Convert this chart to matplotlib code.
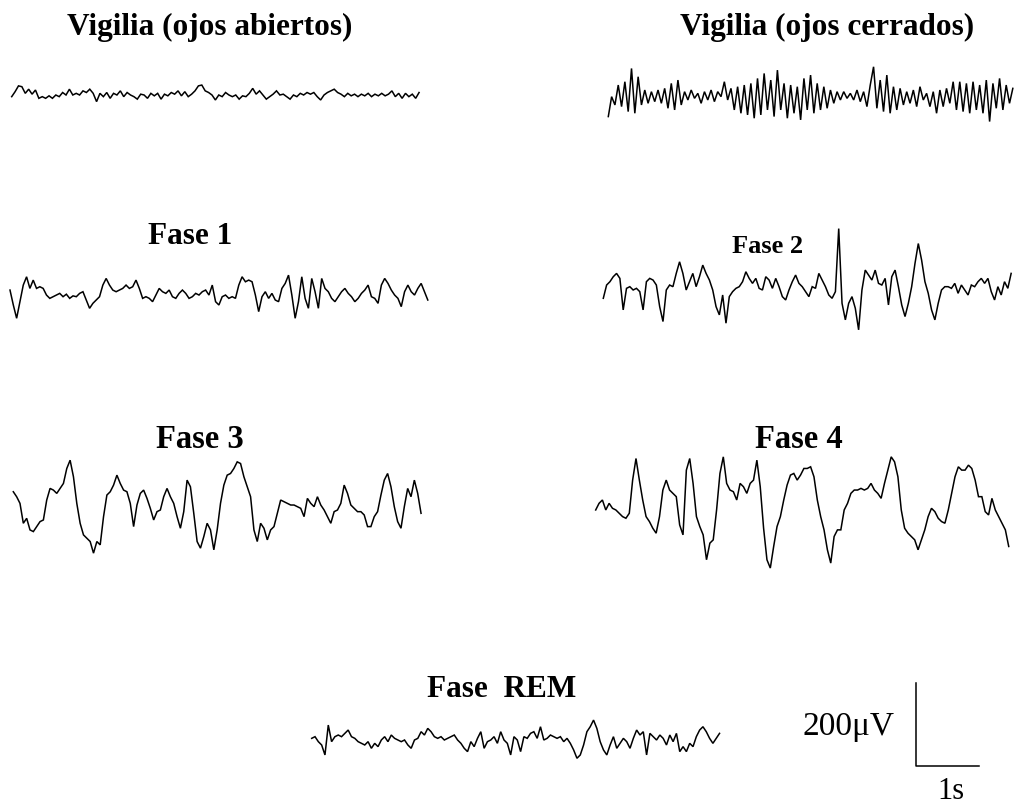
import numpy as np
import matplotlib
matplotlib.use("Agg")
import matplotlib.pyplot as plt

# ---------------- data (amplitudes in microvolts, sampled at FS Hz) ----------------
FS = 19.0

vigilia_abiertos = [
    -4, 8, 22, 20, 4, 14, 2, 12, -8, -4,
    -8, -2, -8, 0, -4, 6, 0, 14, 0, 4,
    0, 10, 6, 14, 4, -16, 4, -4, 6, -8,
    4, 0, 10, -4, 6, 0, -4, -10, 2, 0,
    -8, 4, -2, 4, -10, 2, -2, 6, 2, 10,
    -2, 8, -4, 2, 10, 22, 24, 10, 6, 0,
    -12, 0, -4, 6, 0, -4, 0, -10, -2, -4,
    4, 16, 2, 10, 0, -10, -4, 2, 10, 0,
    2, -4, -10, 0, -4, 4, 0, 6, 2, 6,
    -4, -12, 0, 6, 10, 14, 6, 2, -4, 4,
    -2, 2, -4, 2, -2, 4, -4, 2, -2, 4,
    -2, 2, 10, -4, 4, -8, 4, -4, 2, -8,
    6,
]

vigilia_cerrados = [
    -52, -4, -24, 24, -28, 32, -40, 64, -44, 44,
    -24, 12, -20, 8, -16, 12, -20, 16, -32, 28,
    -36, 36, -24, 8, -12, 12, -8, 4, -20, 8,
    -12, 12, -16, 8, -4, 32, -12, 16, -36, 20,
    -44, 24, -48, 28, -56, 40, -48, 52, -36, 36,
    -52, 60, -36, 28, -56, 24, -44, 20, -60, 40,
    -36, 48, -44, 28, -36, 20, -32, 12, -20, 8,
    -12, 8, -8, 4, -12, 12, -16, 8, -28, 24,
    68, -32, 36, -40, 48, -44, 20, -36, 16, -24,
    8, -20, 12, -28, 20, -12, 4, -28, 8, -44,
    12, -28, 16, -20, 32, -36, 32, -40, 28, -44,
    32, -36, 24, -44, 36, -64, 28, -32, 40, -36,
    24, -20, 16,
]

fase1 = [
    16, -20, -52, -12, 28, 48, 20, 40, 20, 24,
    20, 4, -4, 0, 4, 8, 0, 6, -4, 2,
    0, 8, 12, -8, -28, -16, -8, 0, 28, 44,
    28, 16, 12, 16, 20, 28, 20, 24, 40, 20,
    -4, 0, -4, -12, 4, 20, 12, 8, 16, 0,
    -4, 8, 16, 8, -4, 0, 8, 4, 12, 16,
    4, 28, -12, -20, 0, 4, -4, 0, -4, 28,
    48, 36, 40, 36, 4, -36, 0, 12, -4, 8,
    -8, -12, 20, 32, 52, 4, -52, -12, 48, -4,
    -28, 44, 12, -28, 44, 20, 12, -4, -12, 0,
    12, 20, 8, 0, -12, -4, 8, 16, 28, 0,
    -4, -16, 28, 44, 32, 16, 4, -4, -24, 12,
    28, 12, 4, 20, 32, 12, -8,
]

fase2 = [
    -20, 12, 20, 32, 40, 28, -48, 4, 8, 0,
    4, -4, -48, 20, 28, 24, 12, -40, -76, 0,
    12, 8, 40, 68, 40, 0, 20, 40, 8, 32,
    60, 40, 24, 0, -40, -60, -12, -80, -16, -4,
    4, 8, 20, 44, 28, 16, 28, 4, 0, 32,
    24, 4, 28, 8, -16, -24, 0, 20, 36, 16,
    8, -4, -16, 8, 4, 40, 24, 8, -12, -20,
    -4, 148, -32, -72, -32, -16, -44, -96, 0, 48,
    36, 24, 48, 16, 12, 28, -36, 32, 48, 8,
    -36, -64, -32, 8, 64, 112, 72, 20, -8, -48,
    -72, -32, 0, 8, 8, 4, 16, -8, 12, 0,
    -12, 12, 8, 20, 28, 16, 28, -4, -24, 8,
    -12, 20, 4, 40,
]

fase3 = [
    44, 32, 16, -32, -20, -48, -52, -40, -28, -24,
    24, 52, 48, 40, 52, 64, 100, 120, 80, 16,
    -32, -60, -68, -76, -104, -76, -84, -16, 36, 44,
    60, 84, 64, 48, 44, 16, -40, 12, 40, 48,
    28, 4, -24, -4, 0, 32, 52, 32, 16, -16,
    -44, -4, 72, 56, -8, -76, -92, -64, -32, -48,
    -96, -48, 16, 60, 84, 88, 100, 116, 112, 80,
    56, 32, -48, -76, -32, -44, -72, -48, -40, -8,
    24, 20, 16, 12, 12, 8, 4, -16, 28, 16,
    8, 32, 12, 0, -16, -32, -4, 0, 16, 60,
    40, 12, 4, -4, -4, -12, -40, -40, -16, -4,
    36, 72, 88, 56, 8, -28, -44, 8, 52, 32,
    72, 40, -8,
]

fase4 = [
    -4, 12, 20, -4, 12, 0, -4, -12, -20, -24,
    -12, 68, 120, 68, 20, -20, -32, -48, -60, -20,
    44, 68, 44, 36, 28, -40, -64, 92, 120, 60,
    -20, -44, -64, -124, -84, -76, -4, 84, 124, 60,
    44, 40, 20, 60, 52, 36, 60, 68, 116, 52,
    -48, -124, -144, -92, -44, -20, 20, 56, 80, 84,
    68, 80, 96, 96, 100, 76, 20, -20, -52, -100,
    -132, -68, -52, -52, -4, 12, 36, 44, 44, 48,
    44, 48, 60, 44, 36, 24, 60, 92, 124, 112,
    76, -4, -48, -60, -68, -76, -100, -76, -52, -20,
    0, -8, -24, -32, -36, -4, 36, 76, 100, 92,
    92, 104, 96, 68, 28, 28, -8, -16, 24, -4,
    -20, -36, -52, -92,
]

fase_rem = [
    4, 8, -4, -12, -36, 36, -4, 8, 12, 8,
    16, 24, 8, 4, -4, -8, -12, -4, -20, -8,
    -16, 0, 8, -4, 12, 4, 0, -4, 0, -12,
    -20, 0, 4, 20, 12, 28, 20, 8, 4, 8,
    0, 4, 8, 12, 0, -8, -20, -28, -4, -16,
    4, 20, -20, -4, 0, 8, -8, 20, 0, -8,
    -36, 8, 0, -28, 8, 4, 16, 20, 4, 32,
    0, 4, 12, 8, 4, 8, -4, 4, -8, -24,
    -44, -36, -12, 20, 32, 48, 28, -4, -24, -36,
    -12, 8, -20, -8, 4, -4, -20, 4, 24, 12,
    20, -36, 16, 8, 0, 12, 4, -12, 12, -4,
    16, -28, -16, -28, -8, -16, 8, 24, 32, 20,
    4, -8, 4, 16,
]

labels = ["Vigilia (ojos abiertos)", "Vigilia (ojos cerrados)", "Fase 1",
          "Fase 2", "Fase 3", "Fase 4", "Fase  REM"]
series = [vigilia_abiertos, vigilia_cerrados, fase1, fase2, fase3, fase4, fase_rem]

SCALE_UV = 200   # vertical scale bar
SCALE_S = 1      # horizontal scale bar

# ---------------- layout (pixels of the 1016x807 canvas) ----------------
W, H = 1016, 807
PX_PER_UV = 0.415
HALF_PX = 100
PX_PER_S = 63.0

# (trace left x, baseline y, px per second along that trace)
trace_pos = [(11.7, 95, 64.5), (608.3, 95, 63.0), (10, 296.7, 63.0), (603.3, 290, 63.0),
             (13.3, 510, 63.5), (595.7, 508.3, 63.8), (311.7, 740, 63.0)]
# (label x, label baseline y, fontsize)
label_pos = [(210, 35, 22.5), (827, 35, 22.5), (190, 244, 22.5),
             (768, 253, 19), (200, 448, 23.5), (799, 448, 23.5), (502, 697, 22.5)]

plt.rcParams['font.family'] = ['Liberation Serif', 'DejaVu Serif']

fig = plt.figure(figsize=(W / 100, H / 100), dpi=100)
fig.patch.set_facecolor('white')

def px_axes(x0, y0, wpx, hpx_half, px_per_s):
    ax = fig.add_axes([x0 / W, (H - y0 - hpx_half) / H, wpx / W, 2 * hpx_half / H])
    ax.set_xlim(0, wpx / px_per_s)
    ax.set_ylim(-hpx_half / PX_PER_UV, hpx_half / PX_PER_UV)
    ax.axis('off')
    return ax

for vals, (x0, y0, pps) in zip(series, trace_pos):
    v = np.asarray(vals, dtype=float)
    t = np.arange(len(v)) / FS
    ax = px_axes(x0, y0, 420, HALF_PX, pps)
    ax.plot(t, v, color='black', lw=1.1, solid_joinstyle='miter', clip_on=False)

# scale bar
sb = px_axes(916, 766, 80, HALF_PX, PX_PER_S)
sb.plot([0, 0, SCALE_S], [SCALE_UV, 0, 0], color='black', lw=1.1, clip_on=False)

# text overlay
ov = fig.add_axes([0, 0, 1, 1])
ov.set_xlim(0, W)
ov.set_ylim(H, 0)
ov.axis('off')
for txt, (x, y, fs) in zip(labels, label_pos):
    ov.text(x, y, txt, ha='center', va='baseline', fontsize=fs, fontweight='bold')
ov.text(848, 735, "200\u03bcV", ha='center', va='baseline', fontsize=24)
ov.text(951, 799, "1s", ha='center', va='baseline', fontsize=22)

fig.savefig("out.png", dpi=100, facecolor='white')
